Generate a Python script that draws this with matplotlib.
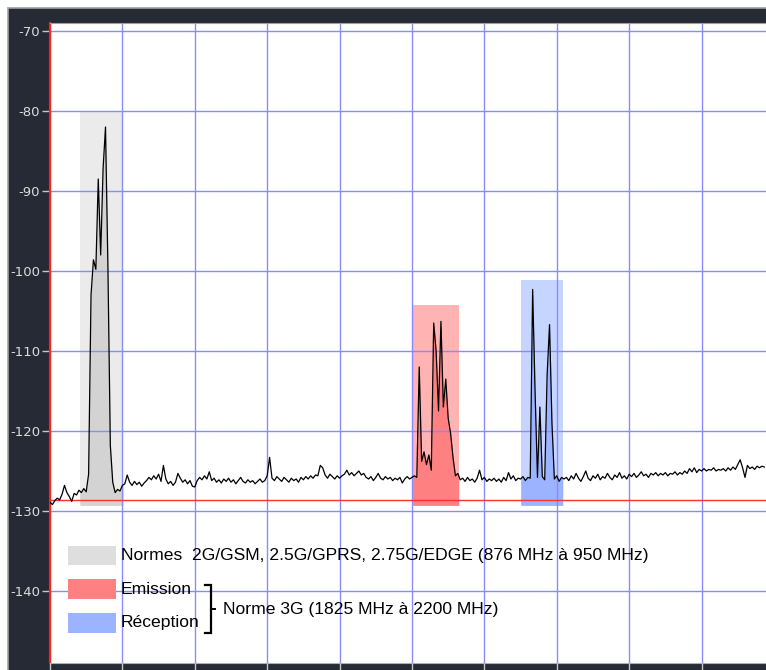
# -*- coding: utf-8 -*-
"""
Spectre radio : bandes GSM et 3G
"""

import numpy as np
import matplotlib
matplotlib.use('Agg')
import matplotlib.pyplot as plt
from matplotlib.patches import Rectangle

plt.rcParams['axes.unicode_minus'] = False

# Niveau mesuré (dBm), un point tous les 1/30 de division
niveau = [
    -128.9, -129.2, -128.7, -128.4, -128.6, -127.9, -126.8, -127.7, -128.2, -128.8,
    -127.8, -128.0, -127.4, -127.7, -127.2, -127.6, -125.4, -103.0, -98.6, -99.8,
    -88.5, -98.0, -87.2, -82.0, -99.5, -121.8, -126.4, -127.7, -127.3, -127.5,
    -126.8, -126.6, -125.5, -126.4, -126.8, -126.3, -126.7, -126.4, -126.9, -126.5,
    -126.2, -125.8, -126.1, -125.6, -126.0, -125.4, -126.3, -124.3, -126.0, -126.6,
    -126.3, -126.8, -126.4, -125.3, -125.9, -126.4, -126.1, -126.6, -126.2, -126.9,
    -127.0, -126.2, -125.8, -126.1, -125.6, -126.0, -125.1, -126.2, -125.9, -126.4,
    -126.1, -126.5, -126.0, -126.3, -125.9, -126.4, -126.1, -126.6, -126.2, -125.8,
    -126.3, -126.5, -126.1, -126.4, -126.2, -126.6, -126.3, -126.0, -126.4, -126.2,
    -125.6, -123.3, -125.9, -126.2, -125.7, -126.0, -126.3, -125.8, -126.1, -126.4,
    -125.9, -126.2, -126.0, -126.4, -125.8, -126.1, -125.7, -126.0, -125.6, -125.9,
    -125.5, -125.6, -124.3, -124.6, -125.5, -125.9, -125.4, -125.7, -126.0, -125.6,
    -125.9, -125.6, -125.4, -124.9, -125.5, -125.2, -125.6, -125.3, -125.0, -125.5,
    -125.3, -125.8, -126.0, -125.7, -126.2, -125.8, -125.3, -125.9, -126.1, -125.7,
    -126.0, -125.8, -126.2, -125.9, -126.1, -125.8, -126.5, -126.0, -125.7, -126.0,
    -125.8, -125.6, -125.8, -112.0, -123.8, -122.6, -124.2, -123.0, -124.9, -106.5,
    -110.0, -117.5, -106.3, -117.0, -113.5, -118.4, -120.3, -123.3, -125.6, -125.3,
    -126.1, -125.9, -126.3, -125.8, -126.2, -126.0, -126.4, -125.9, -124.9, -126.1,
    -125.8, -126.3, -126.0, -126.2, -125.9, -126.3, -126.0, -126.4, -125.8, -126.2,
    -125.2, -126.0, -125.6, -126.2, -125.9, -126.0, -125.7, -126.2, -125.8, -125.9,
    -102.3, -115.0, -125.8, -117.0, -125.7, -126.1, -113.0, -106.7, -119.0, -126.0,
    -125.6, -126.3, -125.8, -126.0, -125.8, -126.2, -125.6, -126.0, -125.3, -125.9,
    -126.3, -125.7, -125.0, -125.9, -126.2, -125.6, -125.9, -125.4, -126.1, -125.7,
    -125.9, -125.3, -125.8, -126.1, -125.5, -125.8, -125.2, -125.9, -125.6, -126.0,
    -125.4, -125.7, -125.3, -125.8, -125.5, -125.1, -125.6, -125.4, -125.8, -125.3,
    -125.5, -125.2, -125.6, -125.3, -125.5, -125.2, -125.6, -125.3, -125.4, -125.1,
    -125.5, -125.2, -125.4, -125.0, -125.3, -124.7, -125.1, -124.6, -125.2, -124.8,
    -125.0, -124.7, -125.0, -124.8, -124.9, -124.6, -125.0, -124.8, -124.9, -124.7,
    -125.0, -124.6, -124.9, -124.5, -124.8, -124.2, -123.6, -124.6, -125.8, -124.3,
    -124.7, -124.5, -124.8, -124.4, -124.6, -124.4, -124.5,
]
ech = np.arange(len(niveau))

# Bandes de fréquences (en échantillons) et hauteur des zones
bande_debut = [12.4, 150.3, 195.1]
bande_fin = [30.3, 169.4, 212.5]
bande_haut = [-80.0, -104.25, -101.1]
bande_bas = -129.3
seuil = -128.6

couleur_bande = ['#ebebeb', '#ffb3b3', '#c6d5ff']
couleur_fond = ['#d3d3d3', '#ff8080', '#9cb3ff']
couleur_legende = ['#dedede', '#ff8080', '#9cb3ff']

legende_textes = ['Normes  2G/GSM, 2.5G/GPRS, 2.75G/EDGE (876 MHz à 950 MHz)',
                  'Emission', 'Réception']
texte_3g = 'Norme 3G (1825 MHz à 2200 MHz)'

graduations_y = [-70, -80, -90, -100, -110, -120, -130, -140]
graduations_x = np.arange(0, 297, 30)

fig = plt.figure(figsize=(7.66, 6.70), dpi=100)

# Cadre sombre autour du graphique
cadre = fig.add_axes([0, 0, 1, 1], zorder=-10)
cadre.set_xlim(0, 766)
cadre.set_ylim(670, 0)
cadre.axis('off')
cadre.add_patch(Rectangle((8, 8), 800, 700, facecolor='#262a35',
                          edgecolor='#a0a0a0', lw=1.2))

ax = fig.add_axes([50 / 766, 7 / 670, 716 / 766, 640 / 670])
ax.set_facecolor('white')
ax.set_xlim(0, 296.7)
ax.set_ylim(-149, -69)

# Zones colorées + remplissage sous la courbe
for d, f, h, cb, cf in zip(bande_debut, bande_fin, bande_haut, couleur_bande, couleur_fond):
    ax.add_patch(Rectangle((d, bande_bas), f - d, h - bande_bas, facecolor=cb,
                           edgecolor='none', zorder=0.5))
    m = (ech > d) & (ech < f)
    xf = np.concatenate([[d], ech[m], [f]])
    yf = np.interp(xf, ech, niveau)
    ax.fill_between(xf, yf, bande_bas, color=cf, lw=0, zorder=0.6)

ax.axhline(seuil, color='#ff3030', lw=1.0, zorder=2.8)
ax.plot(ech, niveau, color='black', lw=0.9, zorder=3)

# Grille
ax.set_xticks(graduations_x)
ax.set_yticks(graduations_y)
ax.set_xticklabels([])
ax.set_axisbelow('line')
ax.grid(True, color='#8a8aff', lw=1.0)
ax.tick_params(axis='y', direction='out', length=5.5, width=1, color='#c8c8c8',
               labelcolor='#dcdcdc', labelsize=9.5, pad=1.5)
ax.tick_params(axis='x', direction='out', length=5, width=1, color='#c8c8c8')
for lab in ax.get_yticklabels():
    lab.set_fontfamily('DejaVu Sans')

ax.spines['left'].set_color('#ff2020')
ax.spines['left'].set_linewidth(1.5)
ax.spines['top'].set_color('#a0a0a0')
ax.spines['bottom'].set_color('#b0b0b0')
ax.spines['right'].set_visible(False)

# Légende dessinée à la main
leg_y = [-135.55, -139.75, -144.0]
for (y, c, t) in zip(leg_y, couleur_legende, legende_textes):
    ax.add_patch(Rectangle((7.5, y - 1.2), 19.8, 2.4, facecolor=c,
                           edgecolor='none', zorder=4))
    ax.text(29.3, y, t, fontsize=12.6, family='Liberation Sans',
            va='center', ha='left', zorder=5)

# Accolade pour la norme 3G
ax.plot([64.2, 66.6, 66.6, 64.2], [-139.3, -139.3, -145.2, -145.2],
        color='black', lw=1.6, zorder=5, solid_joinstyle='miter')
ax.plot([66.6, 68.4], [-142.3, -142.3], color='black', lw=1.4, zorder=5)
ax.text(71.5, -142.3, texte_3g, fontsize=12.6, family='Liberation Sans',
        va='center', ha='left', zorder=5)

plt.savefig('out.png', dpi=100)
